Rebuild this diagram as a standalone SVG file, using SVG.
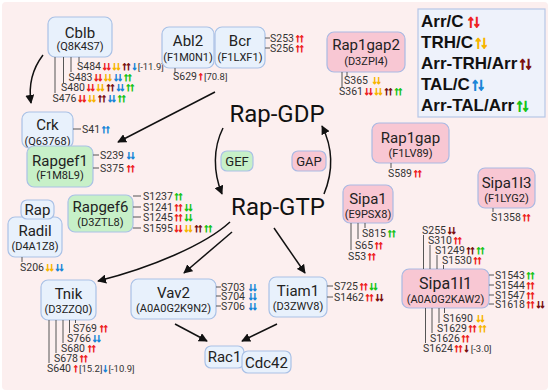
<svg xmlns="http://www.w3.org/2000/svg" width="550" height="392" viewBox="0 0 550 392">
<defs>
<marker id="ah" viewBox="0 0 10 10" refX="9" refY="5" markerWidth="9" markerHeight="9" markerUnits="userSpaceOnUse" orient="auto">
<path d="M0,0 L10,5 L0,10 z" fill="#111"/>
</marker>
<style>
.bg{fill:#fcefef}
.nb{fill:#e8f1fc;stroke:#a9c1e6;stroke-width:1.2}
.np{fill:#f8c7d3;stroke:#a9b9e3;stroke-width:1.2}
.ng{fill:#c7f0c8;stroke:#a9c1e6;stroke-width:1.2}
text{font-family:Roboto,"Liberation Sans",sans-serif;fill:#222}
.ti{font-size:15px;text-anchor:middle}
.id{font-size:11px;text-anchor:middle}
.s{font-size:10.5px;fill:#333}
.v{font-size:9.5px;fill:#333;stroke:none;letter-spacing:0;font-weight:normal}
.a{font-family:"Liberation Sans","DejaVu Sans",sans-serif;font-size:11.5px;letter-spacing:-1.8px;stroke-width:0.8px}
.r{fill:#ee2222;stroke:#ee2222}.y{fill:#f7b500;stroke:#f7b500}.d{fill:#7b1111;stroke:#7b1111}.b{fill:#1a86d8;stroke:#1a86d8}.g{fill:#18c418;stroke:#18c418}
.tk{stroke:#555;stroke-width:1;fill:none}
.big{font-size:24px;text-anchor:middle;fill:#111}
.cn{stroke:#111;stroke-width:1.5;fill:none;marker-end:url(#ah)}
.lg{font-family:"Liberation Sans",Arial,sans-serif;font-weight:bold;font-size:17px;fill:#111}
.la{font-family:"Liberation Sans","DejaVu Sans",sans-serif;font-size:17px;letter-spacing:-2.5px;stroke-width:1.2px}
</style>
</defs>
<rect class="bg" x="2" y="2" width="546" height="388" rx="4"/>

<g id="connectors">
<path class="cn" d="M43,55 Q27,76 31,103"/>
<path class="cn" d="M215,92 L118,142"/>
<path class="cn" d="M223,128 C213,148 213,172 222,194"/>
<path class="cn" d="M324,194 C333,172 333,148 322,126"/>
<path class="cn" d="M230,222 C205,245 150,268 98,281"/>
<path class="cn" d="M232,232 L184,273"/>
<path class="cn" d="M274,228 L305,273"/>
<path class="cn" d="M175,324 L207,341"/>
<path class="cn" d="M277,324 L242,341"/>
</g>

<g id="rap-gdp"><text class="big" x="277" y="122">Rap-GDP</text></g>
<g id="rap-gtp"><text class="big" x="278" y="215">Rap-GTP</text></g>
<g id="gef"><rect class="ng" x="221" y="151" width="32" height="20" rx="6"/><text class="ti" style="font-size:13px" x="237" y="165.5">GEF</text></g>
<g id="gap"><rect class="np" x="292" y="151" width="34" height="20" rx="6"/><text class="ti" style="font-size:13px" x="309" y="165.5">GAP</text></g>

<g id="cblb">
<rect class="nb" x="48" y="17" width="64" height="40" rx="7"/>
<text class="ti" x="80" y="37.5">Cblb</text>
<text class="id" x="80" y="49.5">(Q8K4S7)</text>
<path class="tk" d="M79,57V62 M71,57V72 M63.5,57V83 M55,57V93"/>
<text class="s" x="77" y="70">S484<tspan class="a r" dx="1">↓↓</tspan><tspan class="a y" dx="2">↓↓</tspan><tspan class="a d" dx="2">↑↑</tspan><tspan class="a b" dx="2">↓</tspan><tspan class="v" dx="2">[-11.9]</tspan></text>
<text class="s" x="68.5" y="80.5">S483<tspan class="a r" dx="1">↓↓</tspan><tspan class="a y" dx="2">↓↓</tspan><tspan class="a b" dx="2">↓↓</tspan><tspan class="a g" dx="2">↑↑</tspan></text>
<text class="s" x="61" y="91">S480<tspan class="a r" dx="1">↓↓</tspan><tspan class="a y" dx="2">↓↓</tspan><tspan class="a d" dx="2">↑↑</tspan><tspan class="a b" dx="2">↓↓</tspan><tspan class="a g" dx="2">↑↑</tspan></text>
<text class="s" x="52.5" y="101.5">S476<tspan class="a r" dx="1">↓↓</tspan><tspan class="a y" dx="2">↓↓</tspan><tspan class="a d" dx="2">↑↑</tspan><tspan class="a b" dx="2">↓↓</tspan><tspan class="a g" dx="2">↑↑</tspan></text>
</g>

<g id="crk">
<rect class="nb" x="22" y="112" width="51" height="36" rx="7"/>
<text class="ti" x="47.5" y="129.5">Crk</text>
<text class="id" x="47.5" y="144.5">(Q63768)</text>
<path class="tk" d="M73,129H81"/>
<text class="s" x="82" y="132.7">S41<tspan class="a b" dx="1">↑↑</tspan></text>
</g>

<g id="rapgef1">
<rect class="ng" x="27" y="146" width="66" height="41" rx="7"/>
<text class="ti" x="60" y="165.5">Rapgef1</text>
<text class="id" x="60" y="179">(F1M8L9)</text>
<path class="tk" d="M93,155H99 M93,168H99"/>
<text class="s" x="100" y="158.7">S239<tspan class="a b" dx="2">↓↓</tspan></text>
<text class="s" x="100" y="171.7">S375<tspan class="a r" dx="2">↑↑</tspan></text>
</g>

<g id="abl2">
<rect class="nb" x="162" y="27" width="52" height="41" rx="7"/>
<text class="ti" x="188" y="45.5">Abl2</text>
<text class="id" x="188" y="60.5">(F1M0N1)</text>
<path class="tk" d="M175,68V73"/>
<text class="s" x="173" y="80">S629<tspan class="a r" dx="1">↑</tspan><tspan class="v" dx="2">[70.8]</tspan></text>
</g>

<g id="bcr">
<rect class="nb" x="215" y="27" width="50" height="41" rx="7"/>
<text class="ti" x="240" y="45.5">Bcr</text>
<text class="id" x="240" y="60.5">(F1LXF1)</text>
<path class="tk" d="M265,38H270 M265,48H270"/>
<text class="s" x="270" y="41.7">S253<tspan class="a r" dx="1">↑↑</tspan></text>
<text class="s" x="270" y="51.7">S256<tspan class="a r" dx="1">↑↑</tspan></text>
</g>

<g id="rap1gap2">
<rect class="np" x="327" y="32" width="78" height="40" rx="7"/>
<text class="ti" x="366" y="49.5">Rap1gap2</text>
<text class="id" x="366" y="65">(D3ZPI4)</text>
<path class="tk" d="M347,72V77 M342,72V87"/>
<text class="s" x="344" y="83.7">S365<tspan class="a y" dx="4">↓↓</tspan></text>
<text class="s" x="339" y="94.7">S361<tspan class="a r" dx="1">↓↓</tspan><tspan class="a y" dx="2">↓↓</tspan><tspan class="a d" dx="2">↑↑</tspan><tspan class="a g" dx="2">↑↑</tspan></text>
</g>

<g id="rap1gap">
<rect class="np" x="372" y="123" width="77" height="40" rx="7"/>
<text class="ti" x="410.5" y="142.5">Rap1gap</text>
<text class="id" x="410.5" y="157">(F1LV89)</text>
<path class="tk" d="M391,163V168"/>
<text class="s" x="388" y="176.7">S589<tspan class="a r" dx="1">↑↑</tspan></text>
</g>

<g id="sipa1l3">
<rect class="np" x="478" y="168" width="57" height="40" rx="7"/>
<text class="ti" x="506.5" y="187.5">Sipa1l3</text>
<text class="id" x="506.5" y="201.5">(F1LYG2)</text>
<path class="tk" d="M493,208V212"/>
<text class="s" x="491" y="220.7">S1358<tspan class="a r" dx="1">↑↑</tspan></text>
</g>

<g id="sipa1">
<rect class="np" x="343" y="185" width="50" height="38" rx="7"/>
<text class="ti" x="368" y="204">Sipa1</text>
<text class="id" x="368" y="218">(E9PSX8)</text>
<path class="tk" d="M365,223V228 M358,223V239 M351,223V250"/>
<text class="s" x="362" y="236.7">S815<tspan class="a g" dx="1">↑↑</tspan></text>
<text class="s" x="355" y="248.7">S65<tspan class="a r" dx="1">↑↑</tspan></text>
<text class="s" x="348" y="259.7">S53<tspan class="a r" dx="1">↑↑</tspan></text>
</g>

<g id="sipa1l1">
<rect class="np" x="402" y="269" width="87" height="39" rx="7"/>
<text class="ti" style="font-size:16px" x="445.5" y="288.5">Sipa1l1</text>
<text class="id" x="445.5" y="302.5">(A0A0G2KAW2)</text>
<path class="tk" d="M423.5,235V269 M430,245V269 M437,255V269 M443.5,265V269 M489,275H494 M489,285H494 M489,295H494 M489,304H494 M444.5,308V313 M439,308V323 M432,308V333 M425.5,308V343"/>
<text class="s" x="422" y="233.7">S255<tspan class="a d" dx="1">↓↓</tspan></text>
<text class="s" x="428" y="243.7">S310<tspan class="a r" dx="1">↑↑</tspan></text>
<text class="s" x="435" y="253.7">S1249<tspan class="a d" dx="1">↑↑</tspan><tspan class="a g" dx="2">↑↑</tspan></text>
<text class="s" x="442" y="263.7">S1530<tspan class="a r" dx="1">↑↑</tspan></text>
<text class="s" x="495" y="278.7">S1543<tspan class="a g" dx="1">↑↑</tspan></text>
<text class="s" x="495" y="288.7">S1544<tspan class="a r" dx="1">↑↑</tspan></text>
<text class="s" x="495" y="298.7">S1547<tspan class="a r" dx="1">↑↑</tspan></text>
<text class="s" x="495" y="307.7">S1618<tspan class="a r" dx="1">↑↑</tspan><tspan class="a d" dx="2">↓↓</tspan></text>
<text class="s" x="443" y="321.7">S1690<tspan class="a y" dx="3">↓↓</tspan></text>
<text class="s" x="437" y="331.7">S1629<tspan class="a r" dx="1">↑↑</tspan><tspan class="a y" dx="2">↑↑</tspan></text>
<text class="s" x="430" y="341.7">S1626<tspan class="a r" dx="1">↑↑</tspan></text>
<text class="s" x="423" y="351.7">S1624<tspan class="a r" dx="1">↑↑</tspan><tspan class="a d" dx="2">↓</tspan><tspan class="v" dx="3">[-3.0]</tspan></text>
</g>

<g id="rapgef6">
<rect class="ng" x="68" y="195" width="65" height="37" rx="7"/>
<text class="ti" x="100.5" y="211.5">Rapgef6</text>
<text class="id" x="100.5" y="226">(D3ZTL8)</text>
<path class="tk" d="M133,196H141 M133,207H141 M133,217H141 M133,228H141"/>
<text class="s" x="143" y="199.7">S1237<tspan class="a g" dx="1">↑↑</tspan></text>
<text class="s" x="143" y="210.7">S1241<tspan class="a r" dx="1">↑↑</tspan><tspan class="a g" dx="2">↓↓</tspan></text>
<text class="s" x="143" y="220.7">S1245<tspan class="a r" dx="1">↑↑</tspan><tspan class="a g" dx="2">↓↓</tspan></text>
<text class="s" x="143" y="231.7">S1595<tspan class="a r" dx="1">↓↓</tspan><tspan class="a y" dx="2">↓↓</tspan><tspan class="a d" dx="2">↑↑</tspan><tspan class="a g" dx="2">↑↑</tspan></text>
</g>

<g id="radil">
<rect class="nb" x="8" y="217" width="54" height="40" rx="7"/>
<text class="ti" x="35" y="235.5">Radil</text>
<text class="id" x="35" y="250">(D4A1Z8)</text>
<path class="tk" d="M22,257V262"/>
<text class="s" x="20" y="270.7">S206<tspan class="a y" dx="1">↓↓</tspan><tspan class="a b" dx="2">↓↓</tspan></text>
</g>
<g id="rap">
<rect class="nb" x="21" y="200" width="33" height="19" rx="6"/>
<text class="ti" x="37.5" y="215">Rap</text>
</g>

<g id="tnik">
<rect class="nb" x="41" y="280" width="55" height="40" rx="7"/>
<text class="ti" x="68.5" y="298.5">Tnik</text>
<text class="id" x="68.5" y="313">(D3ZZQ0)</text>
<path class="tk" d="M75.5,320V323 M69.5,320V333 M63,320V343 M56,320V353 M49,320V363"/>
<text class="s" x="73" y="331.7">S769<tspan class="a r" dx="2">↑↑</tspan></text>
<text class="s" x="67" y="341.7">S766<tspan class="a b" dx="1">↓↓</tspan></text>
<text class="s" x="61" y="351.7">S680<tspan class="a r" dx="2">↑↑</tspan></text>
<text class="s" x="54" y="361.7">S678<tspan class="a r" dx="1">↑↑</tspan></text>
<text class="s" x="47" y="371.7">S640<tspan class="a r" dx="2">↑</tspan><tspan class="v" dx="2">[15.2]</tspan><tspan class="a b">↓</tspan><tspan class="v" dx="2">[-10.9]</tspan></text>
</g>

<g id="vav2">
<rect class="nb" x="131" y="279" width="85" height="40" rx="7"/>
<text class="ti" x="173.5" y="297.5">Vav2</text>
<text class="id" x="173.5" y="312">(A0A0G2K9N2)</text>
<path class="tk" d="M216,287H221 M216,296H221 M216,306H221"/>
<text class="s" x="221" y="290.7">S703<tspan class="a b" dx="3">↓↓</tspan></text>
<text class="s" x="221" y="299.7">S704<tspan class="a b" dx="3">↓↓</tspan></text>
<text class="s" x="221" y="309.7">S706<tspan class="a b" dx="3">↓↓</tspan></text>
</g>

<g id="tiam1">
<rect class="nb" x="269" y="277" width="58" height="40" rx="7"/>
<text class="ti" x="298" y="295.5">Tiam1</text>
<text class="id" x="298" y="310">(D3ZWV8)</text>
<path class="tk" d="M327,286H333 M327,297H333"/>
<text class="s" x="334" y="289.7">S725<tspan class="a r" dx="1">↑↑</tspan><tspan class="a g" dx="2">↓↓</tspan></text>
<text class="s" x="334" y="300.7">S1462<tspan class="a r" dx="1">↑↑</tspan><tspan class="a d" dx="2">↓↓</tspan></text>
</g>

<g id="rac1">
<rect class="nb" x="205" y="346" width="39" height="22" rx="6"/>
<text class="ti" x="224.5" y="362">Rac1</text>
</g>
<g id="cdc42">
<rect class="nb" x="242" y="351" width="49" height="22" rx="6"/>
<text class="ti" x="266.5" y="367.5">Cdc42</text>
</g>

<g id="legend">
<rect x="418" y="9" width="127" height="108" fill="#eef2fb" stroke="#b6c6e6" stroke-width="1.2"/>
<text class="lg" x="421" y="27">Arr/C<tspan class="la r" dx="3">↑↓</tspan></text>
<text class="lg" x="421" y="48">TRH/C<tspan class="la y" dx="1">↑↓</tspan></text>
<text class="lg" x="421" y="69">Arr-TRH/Arr<tspan class="la d" dx="1">↑↓</tspan></text>
<text class="lg" x="421" y="90">TAL/C<tspan class="la b" dx="1">↑↓</tspan></text>
<text class="lg" x="421" y="111">Arr-TAL/Arr<tspan class="la g" dx="1">↑↓</tspan></text>
</g>
</svg>
